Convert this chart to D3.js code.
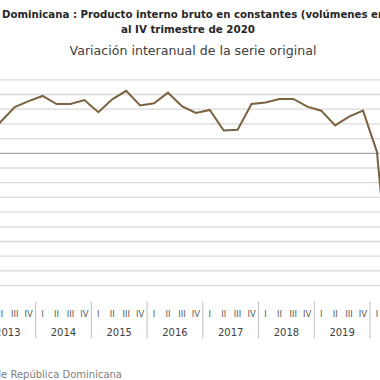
<!DOCTYPE html>
<html>
<head>
<meta charset="utf-8">
<script src="https://cdn.jsdelivr.net/npm/d3@7"></script>
<style>
  html, body { margin: 0; padding: 0; background: #fff; overflow: hidden; }
  svg { display: block; font-family: "DejaVu Sans", sans-serif; }
</style>
</head>
<body>
<svg id="chart" width="380" height="380"></svg>
<script>
// quarters shown on the axis, 2013 to 2020
const years = [2013, 2014, 2015, 2016, 2017, 2018, 2019, 2020];
const quarterNames = ["I", "II", "III", "IV"];
// year-on-year variation (%), 2013-I .. 2020-II
const variation = [
  2.0, 4.3, 6.3, 7.1,
  7.8, 6.7, 6.7, 7.25,
  5.6, 7.35, 8.5, 6.5,
  6.8, 8.25, 6.4, 5.5,
  5.9, 3.1, 3.2, 6.7,
  6.9, 7.4, 7.4, 6.35,
  5.8, 3.8, 5.0, 5.8,
  0.2, -20.0
];
const yTicks = d3.range(-18, 11, 2);

const titleLine1 = "República Dominicana : Producto interno bruto en constantes (volúmenes encadenados)";
const titleLine2 = "al IV trimestre de 2020";
const subtitle = "Variación interanual de la serie original";
const source = "Fuente: Banco Central de República Dominicana";

const quarters = [];
years.forEach(y => quarterNames.forEach(q => quarters.push({ year: y, q: q, key: y + "-" + q })));
const points = variation.map((v, i) => ({ key: quarters[i].key, value: v }));

const svg = d3.select("#chart");

// the plot is wider than the window: 2013 and 2020 are cut at the edges
const x = d3.scaleBand()
  .domain(quarters.map(d => d.key))
  .range([-20.1, 425.7]);

const y = d3.scaleLinear()
  .domain([-20, 10])
  .range([300.3, 79.8]);

// gridlines
svg.append("g")
  .selectAll("line")
  .data(yTicks)
  .enter()
  .append("line")
    .attr("x1", -30)
    .attr("x2", 430)
    .attr("y1", d => y(d))
    .attr("y2", d => y(d))
    .attr("stroke", d => d === 0 ? "#a3a3a3" : "#d9d9d9")
    .attr("stroke-width", 1.3);

// line
const line = d3.line()
  .x(d => x(d.key) + x.bandwidth() / 2)
  .y(d => y(d.value));

svg.append("path")
  .datum(points)
  .attr("d", line)
  .attr("fill", "none")
  .attr("stroke", "#7a6340")
  .attr("stroke-width", 2)
  .attr("stroke-linejoin", "miter");

// category axis: quarter labels, year labels, separators
const axisG = svg.append("g");

axisG.selectAll("text.q")
  .data(quarters)
  .enter()
  .append("text")
    .attr("class", "q")
    .attr("x", d => x(d.key) + x.bandwidth() / 2)
    .attr("y", 317)
    .attr("text-anchor", "middle")
    .attr("font-size", 8.5)
    .attr("fill", "#595959")
    .text(d => d.q);

axisG.selectAll("text.yr")
  .data(years)
  .enter()
  .append("text")
    .attr("class", "yr")
    .attr("x", d => x(d + "-I") + x.bandwidth() * 2)
    .attr("y", 335.5)
    .attr("text-anchor", "middle")
    .attr("font-size", 10)
    .attr("fill", "#404040")
    .text(d => d);

axisG.selectAll("line.sep")
  .data(years.concat([null]))
  .enter()
  .append("line")
    .attr("class", "sep")
    .attr("x1", d => d === null ? x.range()[1] : x(d + "-I"))
    .attr("x2", d => d === null ? x.range()[1] : x(d + "-I"))
    .attr("y1", 301.7)
    .attr("y2", 338.3)
    .attr("stroke", "#bfbfbf")
    .attr("stroke-width", 1);

// titles
const t1 = svg.append("text")
  .attr("y", 18)
  .attr("font-size", 10.2)
  .attr("font-weight", "bold")
  .attr("fill", "#262626")
  .text(titleLine1);
// place it so that "Dominicana" starts at the left edge, as in the cropped original
const prefix = t1.node().getSubStringLength(0, "República ".length);
t1.attr("x", 2 - prefix);

svg.append("text")
  .attr("x", 188)
  .attr("y", 33)
  .attr("text-anchor", "middle")
  .attr("font-size", 10.3)
  .attr("font-weight", "bold")
  .attr("fill", "#262626")
  .text(titleLine2);

svg.append("text")
  .attr("x", 193)
  .attr("y", 55)
  .attr("text-anchor", "middle")
  .attr("font-size", 12.6)
  .attr("fill", "#404040")
  .text(subtitle);

// source note, ends at x ~ 122
svg.append("text")
  .attr("x", 122)
  .attr("y", 378)
  .attr("text-anchor", "end")
  .attr("font-size", 10)
  .attr("fill", "#808080")
  .text(source);
</script>
</body>
</html>
